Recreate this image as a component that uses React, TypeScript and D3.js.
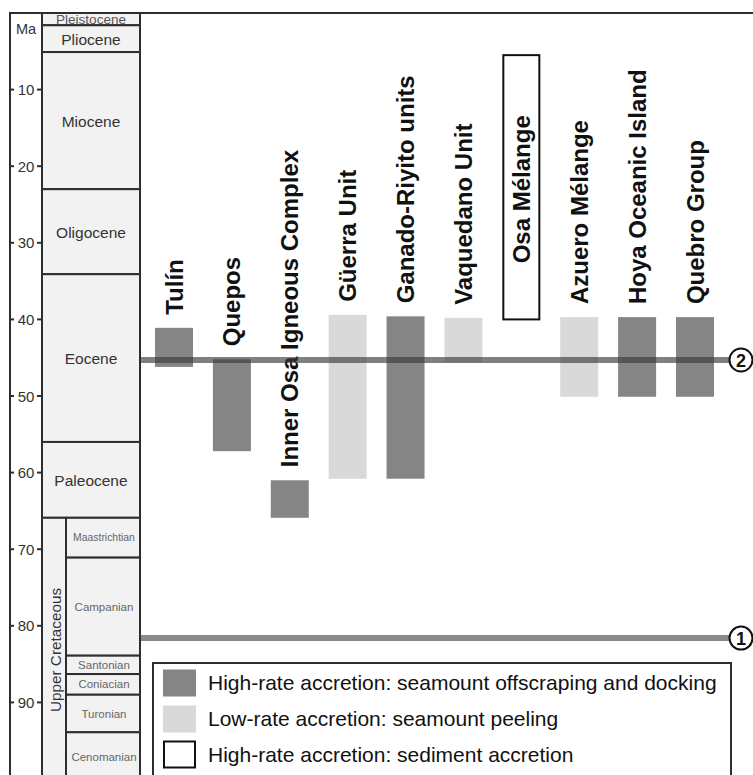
import React from "react";
import * as d3 from "d3";

// ---- Data ----
const maTicks = [10, 20, 30, 40, 50, 60, 70, 80, 90];

const epochNames = ["Pleistocene", "Pliocene", "Miocene", "Oligocene", "Eocene", "Paleocene"];
const epochStart = [0, 1.6, 5.1, 23.0, 34.1, 56.0];
const epochEnd = [1.6, 5.1, 23.0, 34.1, 56.0, 65.9];

const periodName = "Upper Cretaceous";
const periodRange = [65.9, 100];

const stageNames = ["Maastrichtian", "Campanian", "Santonian", "Coniacian", "Turonian", "Cenomanian"];
const stageStart = [65.9, 71.1, 83.9, 86.3, 89.0, 93.9];
const stageEnd = [71.1, 83.9, 86.3, 89.0, 93.9, 100];

const units = [
  "Tulín",
  "Quepos",
  "Inner Osa Igneous Complex",
  "Güerra Unit",
  "Ganado-Riyito units",
  "Vaquedano Unit",
  "Osa Mélange",
  "Azuero Mélange",
  "Hoya Oceanic Island",
  "Quebro Group",
];
const unitTop = [41.1, 45.2, 61.0, 39.4, 39.6, 39.8, 5.5, 39.7, 39.7, 39.7];
const unitBottom = [46.2, 57.2, 65.9, 60.8, 60.8, 45.6, 40.0, 50.1, 50.1, 50.1];
const unitType = ["high", "high", "high", "low", "high", "low", "sediment", "low", "high", "high"];

const eventLabels = ["2", "1"];
const eventAges = [45.3, 81.6];

const legendKeys = ["high", "low", "sediment"];
const legendLabels = [
  "High-rate accretion: seamount offscraping and docking",
  "Low-rate accretion: seamount peeling",
  "High-rate accretion: sediment accretion",
];

// ---- Styles ----
const W = 753;
const H = 775;
const FONT = "'Liberation Sans', Arial, Helvetica, sans-serif";
const fills: Record<string, string> = { high: "#858585", low: "#d9d9d9", sediment: "#ffffff" };
const frame = "#2e2e2e";
const cellFill = "#f2f2f2";

export default function App() {
  const y = d3.scaleLinear().domain([0, 90]).range([13, 702.4]);
  const x = d3.scalePoint<string>().domain(units).range([174, 695]);
  const barW = 38;

  const xAxisL = 10;
  const xEpochL = 42;
  const xStageL = 66;
  const xColR = 140;
  const top = y(0);

  return (
    <svg
      width={W}
      height={H}
      style={{ position: "absolute", left: 0, top: 0, background: "#fff" }}
      fontFamily={FONT}
    >
      <rect width={W} height={H} fill="#fff" />

      {/* epochs */}
      {epochNames.map((n, i) => {
        const y0 = y(epochStart[i]);
        const y1 = y(epochEnd[i]);
        const small = n === "Pleistocene";
        return (
          <g key={n}>
            <rect x={xEpochL} y={y0} width={xColR - xEpochL} height={y1 - y0} fill={cellFill} stroke={frame} strokeWidth={2} />
            <text
              x={(xEpochL + xColR) / 2}
              y={(y0 + y1) / 2 + 0.5}
              textAnchor="middle"
              dominantBaseline="central"
              fontSize={small ? 12 : 15.5}
              fill={small ? "#555" : "#333"}
              textLength={small ? 70 : undefined}
              lengthAdjust="spacingAndGlyphs"
            >
              {n}
            </text>
          </g>
        );
      })}

      {/* period column */}
      <rect
        x={xEpochL}
        y={y(periodRange[0])}
        width={xStageL - xEpochL}
        height={y(periodRange[1]) - y(periodRange[0])}
        fill={cellFill}
        stroke={frame}
        strokeWidth={2}
      />
      <text
        transform={`translate(${(xEpochL + xStageL) / 2 + 1},${650}) rotate(-90)`}
        textAnchor="middle"
        dominantBaseline="central"
        fontSize={15.3}
        fill="#333"
      >
        {periodName}
      </text>

      {/* stages */}
      {stageNames.map((n, i) => {
        const y0 = y(stageStart[i]);
        const y1 = y(stageEnd[i]);
        const cy = n === "Cenomanian" ? y0 + 25 : (y0 + y1) / 2;
        return (
          <g key={n}>
            <rect x={xStageL} y={y0} width={xColR - xStageL} height={y1 - y0} fill={cellFill} stroke={frame} strokeWidth={2} />
            <text
              x={(xStageL + xColR) / 2 + 1}
              y={cy}
              textAnchor="middle"
              dominantBaseline="central"
              fontSize={n === "Maastrichtian" ? 10.4 : 11.5}
              fill="#666"
            >
              {n}
            </text>
          </g>
        );
      })}

      {/* Ma axis column */}
      <line x1={xAxisL} y1={top} x2={xAxisL} y2={H} stroke={frame} strokeWidth={2} />
      <line x1={xEpochL} y1={top} x2={xEpochL} y2={H} stroke={frame} strokeWidth={2} />
      <line x1={xColR} y1={top} x2={xColR} y2={H} stroke={frame} strokeWidth={2} />
      <line x1={xAxisL - 1} y1={top} x2={W} y2={top} stroke={frame} strokeWidth={2} />
      <text x={(xAxisL + xEpochL) / 2} y={34} textAnchor="middle" fontSize={14.5} fill="#333">
        Ma
      </text>
      {maTicks.map((t) => (
        <g key={t}>
          <line x1={xAxisL} x2={xAxisL + 4} y1={y(t)} y2={y(t)} stroke={frame} strokeWidth={2} />
          <line x1={xEpochL - 5} x2={xEpochL} y1={y(t)} y2={y(t)} stroke={frame} strokeWidth={2} />
          <text x={(xAxisL + xEpochL) / 2} y={y(t)} textAnchor="middle" dominantBaseline="central" fontSize={15} fill="#333">
            {t}
          </text>
        </g>
      ))}

      {/* unit bars */}
      {units.map((u, i) => {
        const cx = x(u)!;
        const y0 = y(unitTop[i]);
        const y1 = y(unitBottom[i]);
        const t = unitType[i];
        if (t === "sediment") {
          return (
            <g key={u}>
              <rect x={cx - barW / 2 + 1} y={y0} width={barW - 2} height={y1 - y0} fill="#fff" stroke="#111" strokeWidth={2} />
              <text
                transform={`translate(${cx},${(y0 + y1) / 2 + 2}) rotate(-90)`}
                textAnchor="middle"
                dominantBaseline="central"
                fontSize={24}
                fontWeight="bold"
                fill="#111"
              >
                {u}
              </text>
            </g>
          );
        }
        return (
          <g key={u}>
            <rect x={cx - barW / 2} y={y0} width={barW} height={y1 - y0} fill={fills[t]} />
            <text
              transform={`translate(${cx},${y0 - 13}) rotate(-90)`}
              textAnchor="start"
              dominantBaseline="central"
              fontSize={24}
              fontWeight="bold"
              fill="#111"
            >
              {u}
            </text>
          </g>
        );
      })}

      {/* event lines */}
      {eventLabels.map((lab, i) => {
        const yy = y(eventAges[i]);
        const cx = 741;
        const r = 11.5;
        return (
          <g key={lab}>
            <line
              x1={xColR + 1}
              x2={cx - r}
              y1={yy}
              y2={yy}
              stroke={i === 0 ? "rgba(60,60,60,0.65)" : "#8a8a8a"}
              strokeWidth={6}
            />
            <circle cx={cx} cy={yy} r={r} fill="#fff" stroke="#111" strokeWidth={2} />
            <text x={cx} y={yy + 1} textAnchor="middle" dominantBaseline="central" fontSize={18} fontWeight="bold" fill="#111">
              {lab}
            </text>
          </g>
        );
      })}

      {/* legend */}
      <rect x={153} y={663} width={578} height={H - 663 + 5} fill="#fff" stroke={frame} strokeWidth={2} />
      {legendKeys.map((k, i) => {
        const yc = 682.5 + i * 36;
        return (
          <g key={k}>
            <rect
              x={k === "sediment" ? 164 : 163}
              y={yc - 13}
              width={k === "sediment" ? 31 : 33}
              height={k === "sediment" ? 26 : 27}
              fill={fills[k]}
              stroke={k === "sediment" ? "#111" : "none"}
              strokeWidth={2}
            />
            <text x={208} y={yc} dominantBaseline="central" fontSize={21} fill="#111">
              {legendLabels[i]}
            </text>
          </g>
        );
      })}
    </svg>
  );
}
